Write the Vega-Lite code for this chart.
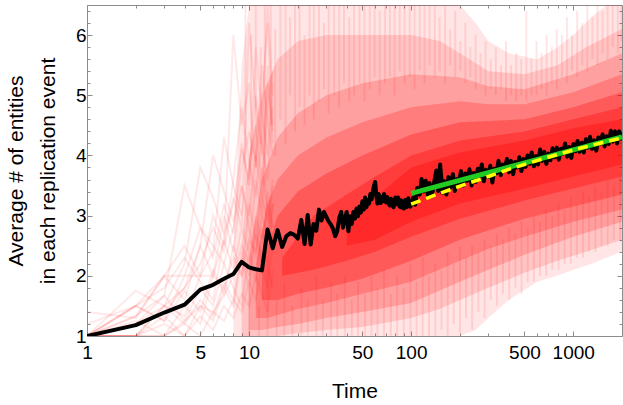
{
"$schema": "https://vega.github.io/schema/vega-lite/v6.json",
"width": 535, "height": 331,
"autosize": "none",
"padding": {"left": 87, "top": 5, "right": 1, "bottom": 69},
"config": {"view": {"stroke": null}, "font": "Liberation Sans"},
"datasets": {
"bands": [
{"band":1,"t":8,"lo":1.0,"hi":2.5},{"band":1,"t":9,"lo":1.0,"hi":5.5},{"band":1,"t":10,"lo":1.0,"hi":6.5},{"band":1,"t":200,"lo":1.0,"hi":6.5},{"band":1,"t":250,"lo":1.1,"hi":6.2},{"band":1,"t":300,"lo":1.3,"hi":5.9},{"band":1,"t":400,"lo":1.6,"hi":5.7},{"band":1,"t":600,"lo":1.9,"hi":5.6},{"band":1,"t":800,"lo":2.0,"hi":5.8},{"band":1,"t":1000,"lo":2.1,"hi":6.0},{"band":1,"t":1300,"lo":2.2,"hi":6.3},{"band":1,"t":1600,"lo":2.3,"hi":6.5},{"band":1,"t":2000,"lo":2.4,"hi":6.5},
{"band":2,"t":9,"lo":1.0,"hi":2.5},{"band":2,"t":10,"lo":1.0,"hi":4.0},{"band":2,"t":12,"lo":1.0,"hi":5.0},{"band":2,"t":15,"lo":1.0,"hi":5.6},{"band":2,"t":20,"lo":1.05,"hi":5.9},{"band":2,"t":30,"lo":1.1,"hi":6.0},{"band":2,"t":50,"lo":1.15,"hi":6.0},{"band":2,"t":100,"lo":1.3,"hi":6.0},{"band":2,"t":150,"lo":1.45,"hi":5.9},{"band":2,"t":200,"lo":1.6,"hi":5.7},{"band":2,"t":300,"lo":1.8,"hi":5.4},{"band":2,"t":500,"lo":2.05,"hi":5.35},{"band":2,"t":800,"lo":2.25,"hi":5.5},{"band":2,"t":1200,"lo":2.4,"hi":5.8},{"band":2,"t":2000,"lo":2.6,"hi":6.1},
{"band":3,"t":10,"lo":1.1,"hi":2.3},{"band":3,"t":12,"lo":1.1,"hi":3.6},{"band":3,"t":15,"lo":1.15,"hi":4.3},{"band":3,"t":20,"lo":1.2,"hi":4.7},{"band":3,"t":30,"lo":1.3,"hi":5.0},{"band":3,"t":50,"lo":1.4,"hi":5.2},{"band":3,"t":100,"lo":1.55,"hi":5.35},{"band":3,"t":200,"lo":1.9,"hi":5.3},{"band":3,"t":300,"lo":2.1,"hi":5.15},{"band":3,"t":500,"lo":2.35,"hi":5.1},{"band":3,"t":1000,"lo":2.65,"hi":5.35},{"band":3,"t":2000,"lo":2.9,"hi":5.7},
{"band":4,"t":11,"lo":1.3,"hi":2.2},{"band":4,"t":13,"lo":1.3,"hi":3.2},{"band":4,"t":15,"lo":1.35,"hi":3.6},{"band":4,"t":20,"lo":1.45,"hi":4.0},{"band":4,"t":30,"lo":1.55,"hi":4.3},{"band":4,"t":50,"lo":1.7,"hi":4.55},{"band":4,"t":100,"lo":1.9,"hi":4.8},{"band":4,"t":200,"lo":2.25,"hi":4.9},{"band":4,"t":300,"lo":2.45,"hi":4.85},{"band":4,"t":500,"lo":2.65,"hi":4.85},{"band":4,"t":1000,"lo":2.9,"hi":5.05},{"band":4,"t":2000,"lo":3.1,"hi":5.35},
{"band":5,"t":12,"lo":1.6,"hi":2.2},{"band":5,"t":15,"lo":1.6,"hi":3.0},{"band":5,"t":20,"lo":1.7,"hi":3.4},{"band":5,"t":30,"lo":1.8,"hi":3.7},{"band":5,"t":50,"lo":1.95,"hi":4.0},{"band":5,"t":100,"lo":2.25,"hi":4.35},{"band":5,"t":200,"lo":2.6,"hi":4.55},{"band":5,"t":500,"lo":2.95,"hi":4.6},{"band":5,"t":1000,"lo":3.15,"hi":4.8},{"band":5,"t":2000,"lo":3.35,"hi":5.05},
{"band":6,"t":16,"lo":2.0,"hi":2.3},{"band":6,"t":25,"lo":2.1,"hi":3.0},{"band":6,"t":40,"lo":2.25,"hi":3.35},{"band":6,"t":60,"lo":2.4,"hi":3.65},{"band":6,"t":100,"lo":2.65,"hi":4.0},{"band":6,"t":200,"lo":2.95,"hi":4.25},{"band":6,"t":500,"lo":3.25,"hi":4.4},{"band":6,"t":1000,"lo":3.45,"hi":4.6},{"band":6,"t":2000,"lo":3.65,"hi":4.8},
{"band":7,"t":40,"lo":2.5,"hi":2.8},{"band":7,"t":60,"lo":2.6,"hi":3.3},{"band":7,"t":100,"lo":2.9,"hi":3.8},{"band":7,"t":200,"lo":3.2,"hi":4.05},{"band":7,"t":500,"lo":3.45,"hi":4.25},{"band":7,"t":1000,"lo":3.65,"hi":4.45},{"band":7,"t":2000,"lo":3.85,"hi":4.6}
],
"streaks": [
{"t":9.5,"a":3.5,"b":6.5},{"t":10.3,"a":4.0,"b":6.0},{"t":11,"a":3.8,"b":6.5},{"t":11.8,"a":4.2,"b":5.8},{"t":12.5,"a":3.5,"b":6.5},{"t":13.6,"a":4.5,"b":6.5},{"t":14.5,"a":4.0,"b":6.1},{"t":15.6,"a":4.6,"b":6.5},{"t":16.8,"a":4.2,"b":6.5},{"t":17.9,"a":5.0,"b":6.3},{"t":19.2,"a":4.4,"b":6.5},{"t":20.5,"a":4.8,"b":6.5},{"t":22,"a":4.5,"b":6.0},{"t":23.6,"a":5.0,"b":6.5},{"t":25.1,"a":4.6,"b":6.5},{"t":27,"a":4.9,"b":6.5},{"t":29,"a":5.1,"b":6.2},{"t":31,"a":4.7,"b":6.5},{"t":33.5,"a":5.0,"b":6.5},{"t":36,"a":4.8,"b":6.5},{"t":38.5,"a":5.2,"b":6.5},{"t":41.5,"a":4.9,"b":6.3},{"t":44.5,"a":5.0,"b":6.5},{"t":48,"a":5.2,"b":6.5},{"t":51.5,"a":4.9,"b":6.5},{"t":55.5,"a":5.1,"b":6.5},{"t":59.5,"a":5.3,"b":6.5},{"t":64,"a":5.0,"b":6.4},{"t":69,"a":5.2,"b":6.5},{"t":74,"a":5.3,"b":6.5},{"t":79,"a":5.0,"b":6.5},{"t":85,"a":5.4,"b":6.5},{"t":91,"a":5.2,"b":6.5},{"t":98,"a":5.3,"b":6.5},{"t":105,"a":5.1,"b":6.5},{"t":113,"a":5.4,"b":6.5},{"t":121,"a":5.2,"b":6.5},{"t":130,"a":5.5,"b":6.5},{"t":140,"a":5.3,"b":6.5},{"t":150,"a":5.4,"b":6.3},{"t":162,"a":5.2,"b":6.5},{"t":174,"a":5.5,"b":6.1},{"t":187,"a":5.3,"b":6.4},{"t":201,"a":5.4,"b":5.9},{"t":216,"a":5.2,"b":6.2},{"t":232,"a":5.3,"b":5.8},{"t":250,"a":5.1,"b":6.0},{"t":268,"a":5.2,"b":5.7},{"t":288,"a":5.0,"b":5.9},{"t":310,"a":5.1,"b":5.6},{"t":333,"a":5.0,"b":5.8},{"t":358,"a":5.1,"b":5.5},{"t":385,"a":4.9,"b":5.9},{"t":414,"a":5.0,"b":5.5},{"t":445,"a":4.9,"b":5.7},{"t":478,"a":5.0,"b":5.6},{"t":514,"a":4.9,"b":6.4},{"t":552,"a":5.0,"b":5.6},{"t":594,"a":5.0,"b":5.9},{"t":638,"a":5.1,"b":5.7},{"t":686,"a":5.0,"b":6.0},{"t":737,"a":5.2,"b":5.8},{"t":792,"a":5.1,"b":6.1},{"t":852,"a":5.3,"b":6.0},{"t":915,"a":5.2,"b":6.3},{"t":984,"a":5.4,"b":6.0},{"t":1058,"a":5.3,"b":6.4},{"t":1137,"a":5.5,"b":6.2},{"t":1222,"a":5.4,"b":6.5},{"t":1314,"a":5.6,"b":6.3},{"t":1412,"a":5.5,"b":6.5},{"t":1518,"a":5.7,"b":6.4},{"t":1632,"a":5.6,"b":6.5},{"t":1754,"a":5.8,"b":6.5},{"t":1886,"a":5.7,"b":6.5},{"t":1980,"a":5.9,"b":6.5},
{"t":10,"a":1.0,"b":1.8},{"t":11.5,"a":1.0,"b":1.5},{"t":13,"a":1.0,"b":2.0},{"t":14.8,"a":1.0,"b":1.6},{"t":16.5,"a":1.0,"b":1.9},{"t":18.5,"a":1.0,"b":1.5},{"t":21,"a":1.0,"b":1.8},{"t":23,"a":1.0,"b":1.6},{"t":26,"a":1.0,"b":2.0},{"t":28.5,"a":1.0,"b":1.6},{"t":32,"a":1.0,"b":1.9},{"t":35,"a":1.0,"b":1.7},{"t":39,"a":1.0,"b":2.0},{"t":43,"a":1.0,"b":1.6},{"t":47,"a":1.0,"b":1.9},{"t":52,"a":1.0,"b":1.7},{"t":57,"a":1.0,"b":2.0},{"t":62,"a":1.0,"b":1.8},{"t":68,"a":1.0,"b":2.1},{"t":75,"a":1.0,"b":1.7},{"t":82,"a":1.0,"b":2.0},{"t":90,"a":1.0,"b":1.8},{"t":99,"a":1.0,"b":2.2},{"t":108,"a":1.0,"b":1.9},{"t":118,"a":1.0,"b":2.3},{"t":129,"a":1.0,"b":2.0},{"t":141,"a":1.0,"b":2.2},{"t":154,"a":1.1,"b":2.1},{"t":168,"a":1.0,"b":2.4},{"t":183,"a":1.2,"b":2.2},{"t":200,"a":1.05,"b":2.5},{"t":218,"a":1.3,"b":2.3},{"t":238,"a":1.1,"b":2.5},{"t":260,"a":1.4,"b":2.4},{"t":284,"a":1.3,"b":2.6},{"t":310,"a":1.6,"b":2.5},{"t":338,"a":1.5,"b":2.7},{"t":369,"a":1.7,"b":2.6},{"t":403,"a":1.6,"b":2.8},{"t":440,"a":1.8,"b":2.7},{"t":480,"a":1.7,"b":2.9},{"t":524,"a":1.9,"b":2.8},{"t":572,"a":1.9,"b":3.0},{"t":624,"a":2.0,"b":2.9},{"t":681,"a":2.0,"b":3.1},{"t":743,"a":2.1,"b":3.0},{"t":811,"a":2.1,"b":3.2},{"t":885,"a":2.2,"b":3.1},{"t":966,"a":2.2,"b":3.3},{"t":1054,"a":2.3,"b":3.2},{"t":1150,"a":2.3,"b":3.4},{"t":1255,"a":2.4,"b":3.3},{"t":1370,"a":2.4,"b":3.5},{"t":1495,"a":2.5,"b":3.4},{"t":1631,"a":2.5,"b":3.6},{"t":1780,"a":2.6,"b":3.5},{"t":1943,"a":2.6,"b":3.7}
],
"early": [
{"t":1,"a":1,"b":1,"c":1,"d":1,"e":1,"f":1,"g":1,"h":1,"i":1.4,"j":1.2,"k":1,"l":1,"m":1,"n":1,"o":1,"p":1,"q":1,"r":1},
{"t":2,"a":1,"b":1.5,"c":1.33,"d":1.2,"e":1,"f":1.75,"g":1.25,"h":1,"i":1.3,"j":1.5,"k":1.2,"l":1,"m":1.5,"n":1.33,"o":1,"p":1.2,"q":1.5,"r":1},
{"t":3,"a":1,"b":2,"c":1.67,"d":1.5,"e":1.5,"f":1.5,"g":1,"h":1.33,"i":2,"j":1.25,"k":1.67,"l":1,"m":1.25,"n":2,"o":1.2,"p":1.4,"q":1.8,"r":1.5},
{"t":4,"a":1.25,"b":2,"c":3.5,"d":2.2,"e":1.8,"f":1.33,"g":1.5,"h":1,"i":1.6,"j":1.75,"k":1.25,"l":1.2,"m":2,"n":2.5,"o":1,"p":1.8,"q":2.3,"r":1.2},
{"t":5,"a":1.5,"b":2,"c":2.8,"d":3.8,"e":2.5,"f":2,"g":1.2,"h":1.5,"i":2.5,"j":1.4,"k":1.8,"l":1,"m":2.8,"n":2,"o":1.33,"p":2.2,"q":1.9,"r":1.6},
{"t":6,"a":1.4,"b":2,"c":2.5,"d":3.3,"e":4,"f":2.4,"g":2,"h":1.25,"i":2,"j":2.1,"k":1.5,"l":1.4,"m":2.3,"n":3,"o":1.1,"p":2.8,"q":1.6,"r":1.33},
{"t":7,"a":1.67,"b":1.8,"c":2.2,"d":2.7,"e":3.4,"f":4.3,"g":2.6,"h":1.8,"i":3,"j":1.7,"k":2.2,"l":1.25,"m":3.2,"n":2.5,"o":1.5,"p":2.4,"q":2.6,"r":1.9},
{"t":8,"a":2,"b":2.3,"c":2.8,"d":3.2,"e":2.9,"f":3.5,"g":6,"h":1.5,"i":2.4,"j":2.5,"k":1.8,"l":1.6,"m":2.7,"n":3.6,"o":1.3,"p":3.3,"q":2.1,"r":1.6},
{"t":9,"a":2.5,"b":2,"c":3.5,"d":4.1,"e":3.8,"f":3,"g":4.5,"h":2.3,"i":3.5,"j":2,"k":1.5,"l":1.4,"m":4.2,"n":4.8,"o":1.7,"p":2.8,"q":2.8,"r":2.4},
{"t":10,"a":2.2,"b":2.6,"c":3,"d":3.6,"e":4.4,"f":3.8,"g":5.2,"h":1.8,"i":2.8,"j":3.2,"k":2.4,"l":1.9,"m":3.5,"n":3.9,"o":1.5,"p":6.2,"q":2.4,"r":2},
{"t":11,"a":3,"b":2.4,"c":4,"d":5,"e":3.9,"f":4.5,"g":3.8,"h":2.9,"i":2.3,"j":2.6,"k":1.9,"l":1.6,"m":5.8,"n":3.3,"o":2,"p":4.8,"q":3.6,"r":2.7},
{"t":12,"a":2.6,"b":3,"c":3.3,"d":4.2,"e":5.5,"f":3.5,"g":4.9,"h":2.2,"i":3.8,"j":2.1,"k":2.8,"l":2.2,"m":4.7,"n":4.4,"o":1.7,"p":4,"q":3,"r":2.3},
{"t":13,"a":3.2,"b":2.7,"c":2.9,"d":3.6,"e":4.6,"f":4.8,"g":6.2,"h":2.6,"i":3.1,"j":3.4,"k":2.2,"l":1.8,"m":4,"n":6.5,"o":1.4,"p":5.2,"q":5.5,"r":2},
{"t":14,"a":2.8,"b":3.5,"c":3.6,"d":4.8,"e":4,"f":5.4,"g":4.5,"h":3.2,"i":2.6,"j":2.8,"k":1.8,"l":2.5,"m":5.2,"n":5,"o":2.1,"p":4.4,"q":4.2,"r":3.2}
],
"mean": [
{"t":1,"y":1.0},{"t":2,"y":1.18},{"t":3,"y":1.39},{"t":4,"y":1.52},{"t":5,"y":1.77},{"t":6,"y":1.85},{"t":7,"y":1.95},{"t":8,"y":2.03},{"t":9,"y":2.23},{"t":10,"y":2.14},{"t":11,"y":2.11},{"t":12,"y":2.09},{"t":13,"y":2.77},{"t":14,"y":2.46},{"t":15,"y":2.76},{"t":16,"y":2.48},{"t":17,"y":2.66},{"t":18,"y":2.71},{"t":19,"y":2.68},{"t":20,"y":2.62},{"t":21,"y":2.93},{"t":22,"y":2.53},{"t":23,"y":3.01},{"t":24,"y":2.52},{"t":25,"y":2.86},{"t":26,"y":2.75},{"t":27,"y":3.1},{"t":28,"y":2.92},{"t":29,"y":3.06},{"t":30,"y":2.98},{"t":31,"y":2.9},{"t":32,"y":2.85},{"t":33,"y":2.78},{"t":34,"y":2.66},{"t":35,"y":2.74},{"t":36,"y":2.96},{"t":37,"y":3.06},{"t":38,"y":2.8},{"t":39,"y":2.95},{"t":40,"y":3.06},{"t":41,"y":2.74},{"t":42,"y":2.99},{"t":43,"y":2.86},{"t":44,"y":3.06},{"t":45,"y":2.95},{"t":46,"y":3.12},{"t":47,"y":2.99},{"t":48,"y":3.15},{"t":49,"y":3.05},{"t":50,"y":3.24},{"t":51,"y":3.1},{"t":52,"y":3.3},{"t":53,"y":3.14},{"t":54,"y":3.26},{"t":55,"y":3.2},{"t":56,"y":3.36},{"t":57,"y":3.27},{"t":58,"y":3.4},{"t":59,"y":3.5},{"t":60,"y":3.56},{"t":61,"y":3.32},{"t":62,"y":3.2},{"t":63,"y":3.36},{"t":64,"y":3.3},{"t":65,"y":3.21},{"t":66,"y":3.31},{"t":67,"y":3.24},{"t":68,"y":3.36},{"t":69,"y":3.27},{"t":70,"y":3.22},{"t":71,"y":3.31},{"t":72,"y":3.28},{"t":73,"y":3.19},{"t":74,"y":3.17},{"t":75,"y":3.28},{"t":76,"y":3.24},{"t":77,"y":3.16},{"t":78,"y":3.14},{"t":79,"y":3.26},{"t":80,"y":3.3},{"t":81,"y":3.22},{"t":82,"y":3.19},{"t":83,"y":3.3},{"t":84,"y":3.27},{"t":85,"y":3.15},{"t":86,"y":3.14},{"t":87,"y":3.25},{"t":88,"y":3.23},{"t":89,"y":3.13},{"t":90,"y":3.12},{"t":91,"y":3.22},{"t":92,"y":3.26},{"t":93,"y":3.16},{"t":94,"y":3.14},{"t":95,"y":3.24},{"t":96,"y":3.29},{"t":97,"y":3.18},{"t":98,"y":3.2},{"t":99,"y":3.15},
{"t":100,"y":3.18},{"t":103,"y":3.3},{"t":106,"y":3.18},{"t":109,"y":3.46},{"t":113,"y":3.35},{"t":116,"y":3.61},{"t":119,"y":3.4},{"t":123,"y":3.58},{"t":127,"y":3.34},{"t":130,"y":3.54},{"t":134,"y":3.32},{"t":138,"y":3.52},{"t":143,"y":3.75},{"t":147,"y":3.41},{"t":151,"y":3.85},{"t":156,"y":3.38},{"t":160,"y":3.57},{"t":165,"y":3.35},{"t":170,"y":3.64},{"t":175,"y":3.47},{"t":181,"y":3.69},{"t":186,"y":3.41},{"t":192,"y":3.61},{"t":197,"y":3.53},{"t":203,"y":3.74},{"t":209,"y":3.5},{"t":216,"y":3.7},{"t":222,"y":3.58},{"t":229,"y":3.77},{"t":236,"y":3.5},{"t":243,"y":3.71},{"t":250,"y":3.56},{"t":258,"y":3.78},{"t":265,"y":3.65},{"t":273,"y":3.85},{"t":281,"y":3.57},{"t":290,"y":3.76},{"t":299,"y":3.64},{"t":308,"y":3.83},{"t":317,"y":3.55},{"t":326,"y":3.78},{"t":336,"y":3.7},{"t":346,"y":3.91},{"t":357,"y":3.67},{"t":367,"y":3.85},{"t":378,"y":3.77},{"t":390,"y":3.94},{"t":401,"y":3.72},{"t":413,"y":3.91},{"t":426,"y":3.69},{"t":438,"y":3.89},{"t":452,"y":3.8},{"t":465,"y":3.97},{"t":479,"y":3.74},{"t":493,"y":3.94},{"t":508,"y":3.81},{"t":523,"y":4.0},{"t":539,"y":3.86},{"t":555,"y":4.05},{"t":572,"y":3.82},{"t":589,"y":3.99},{"t":607,"y":3.85},{"t":625,"y":4.1},{"t":644,"y":3.91},{"t":663,"y":4.06},{"t":683,"y":3.86},{"t":703,"y":4.03},{"t":724,"y":3.92},{"t":746,"y":4.12},{"t":768,"y":3.97},{"t":792,"y":4.13},{"t":815,"y":3.93},{"t":840,"y":4.11},{"t":865,"y":4.03},{"t":891,"y":4.2},{"t":918,"y":3.98},{"t":945,"y":4.14},{"t":974,"y":3.96},{"t":1003,"y":4.19},{"t":1033,"y":4.07},{"t":1064,"y":4.24},{"t":1096,"y":4.06},{"t":1129,"y":4.21},{"t":1163,"y":4.05},{"t":1197,"y":4.27},{"t":1233,"y":4.13},{"t":1270,"y":4.31},{"t":1308,"y":4.11},{"t":1348,"y":4.25},{"t":1388,"y":4.08},{"t":1430,"y":4.3},{"t":1473,"y":4.2},{"t":1517,"y":4.35},{"t":1562,"y":4.15},{"t":1609,"y":4.32},{"t":1657,"y":4.19},{"t":1707,"y":4.41},{"t":1758,"y":4.23},{"t":1811,"y":4.4},{"t":1865,"y":4.2},{"t":1921,"y":4.4},{"t":1979,"y":4.28},{"t":2000,"y":4.38}
],
"green": [{"t":100,"y":3.37},{"t":2000,"y":4.31}],
"yellow": [{"t":100,"y":3.19},{"t":120,"y":3.27},{"t":150,"y":3.37},{"t":200,"y":3.49},{"t":250,"y":3.58},{"t":300,"y":3.65},{"t":400,"y":3.77},{"t":500,"y":3.85},{"t":700,"y":3.97},{"t":1000,"y":4.09},{"t":1500,"y":4.21},{"t":2000,"y":4.29}]
},
"layer": [
{"data": {"name": "bands"}, "transform": [{"filter": "datum.band == 1"}], "mark": {"type": "area", "color": "#ff0000", "opacity": 0.1, "clip": true},
 "encoding": {"x": {"field": "t", "type": "quantitative", "scale": {"type": "log", "domain": [1, 2000], "nice": false}, "axis": null},
  "y": {"field": "lo", "type": "quantitative", "scale": {"domain": [1, 6.5], "nice": false, "zero": false}, "axis": null}, "y2": {"field": "hi"}}},
{"data": {"name": "bands"}, "transform": [{"filter": "datum.band == 2"}], "mark": {"type": "area", "color": "#ff0000", "opacity": 0.14, "clip": true},
 "encoding": {"x": {"field": "t", "type": "quantitative", "axis": null}, "y": {"field": "lo", "type": "quantitative", "axis": null}, "y2": {"field": "hi"}}},
{"data": {"name": "bands"}, "transform": [{"filter": "datum.band == 3"}], "mark": {"type": "area", "color": "#ff0000", "opacity": 0.18, "clip": true},
 "encoding": {"x": {"field": "t", "type": "quantitative", "axis": null}, "y": {"field": "lo", "type": "quantitative", "axis": null}, "y2": {"field": "hi"}}},
{"data": {"name": "bands"}, "transform": [{"filter": "datum.band == 4"}], "mark": {"type": "area", "color": "#ff0000", "opacity": 0.22, "clip": true},
 "encoding": {"x": {"field": "t", "type": "quantitative", "axis": null}, "y": {"field": "lo", "type": "quantitative", "axis": null}, "y2": {"field": "hi"}}},
{"data": {"name": "bands"}, "transform": [{"filter": "datum.band == 5"}], "mark": {"type": "area", "color": "#ff0000", "opacity": 0.28, "clip": true},
 "encoding": {"x": {"field": "t", "type": "quantitative", "axis": null}, "y": {"field": "lo", "type": "quantitative", "axis": null}, "y2": {"field": "hi"}}},
{"data": {"name": "bands"}, "transform": [{"filter": "datum.band == 6"}], "mark": {"type": "area", "color": "#ff0000", "opacity": 0.32, "clip": true},
 "encoding": {"x": {"field": "t", "type": "quantitative", "axis": null}, "y": {"field": "lo", "type": "quantitative", "axis": null}, "y2": {"field": "hi"}}},
{"data": {"name": "bands"}, "transform": [{"filter": "datum.band == 7"}], "mark": {"type": "area", "color": "#ff0000", "opacity": 0.32, "clip": true},
 "encoding": {"x": {"field": "t", "type": "quantitative", "axis": null}, "y": {"field": "lo", "type": "quantitative", "axis": null}, "y2": {"field": "hi"}}},
{"data": {"name": "streaks"}, "mark": {"type": "rule", "color": "#ff0000", "opacity": 0.1, "strokeWidth": 2, "clip": true},
 "encoding": {"x": {"field": "t", "type": "quantitative", "axis": null}, "y": {"field": "a", "type": "quantitative", "axis": null}, "y2": {"field": "b"}}},
{"data": {"name": "early"}, "transform": [{"fold": ["a","b","c","d","e","f","g","h","i","j","k","l","m","n","o","p","q","r"], "as": ["run", "v"]}],
 "mark": {"type": "line", "color": "#ff0000", "opacity": 0.09, "strokeWidth": 2, "clip": true},
 "encoding": {"x": {"field": "t", "type": "quantitative", "axis": null}, "y": {"field": "v", "type": "quantitative", "axis": null}, "detail": {"field": "run"}}},
{"data": {"name": "mean"}, "mark": {"type": "line", "color": "#000000", "strokeWidth": 4, "strokeJoin": "round", "clip": true},
 "encoding": {"x": {"field": "t", "type": "quantitative", "axis": null}, "y": {"field": "y", "type": "quantitative", "axis": null}}},
{"data": {"name": "green"}, "mark": {"type": "line", "color": "#22cc22", "strokeWidth": 5},
 "encoding": {
  "x": {"field": "t", "type": "quantitative", "axis": {"orient": "bottom", "values": [1,2,3,4,5,6,7,8,9,10,20,30,40,50,60,70,80,90,100,200,300,400,500,600,700,800,900,1000],
    "labelExpr": "indexof([1,5,10,50,100,500,1000], datum.value) >= 0 ? format(datum.value, 'd') : ''",
    "labelFlush": false, "labelOverlap": false, "labelFont": "Liberation Sans", "labelFontSize": 19, "labelColor": "#000000", "labelPadding": 12,
    "tickSize": {"condition": {"test": "indexof([1,5,10,50,100,500,1000], datum.value) >= 0", "value": -5}, "value": -3},
    "tickColor": "#8c8c8c", "domainColor": "#8c8c8c", "grid": false,
    "title": "Time", "titleFont": "Liberation Sans", "titleFontSize": 21, "titleFontWeight": "normal", "titleColor": "#000000", "titlePadding": 16}},
  "y": {"field": "y", "type": "quantitative", "axis": {"orient": "left", "values": [1,1.2,1.4,1.6,1.8,2,2.2,2.4,2.6,2.8,3,3.2,3.4,3.6,3.8,4,4.2,4.4,4.6,4.8,5,5.2,5.4,5.6,5.8,6,6.2,6.4],
    "labelExpr": "datum.value % 1 === 0 ? format(datum.value, 'd') : ''",
    "labelOverlap": false, "labelFlush": false, "labelFont": "Liberation Sans", "labelFontSize": 19, "labelColor": "#000000", "labelPadding": 6,
    "tickSize": {"condition": {"test": "datum.value % 1 === 0", "value": -5}, "value": -3},
    "tickColor": "#8c8c8c", "domainColor": "#8c8c8c", "grid": false,
    "title": ["Average # of entities", "in each replication event"], "titleFont": "Liberation Sans", "titleFontSize": 21, "titleFontWeight": "normal", "titleColor": "#000000", "titleLineHeight": 32, "titlePadding": 17}}}},
{"data": {"name": "yellow"}, "mark": {"type": "line", "color": "#ffff00", "strokeWidth": 3.5, "strokeDash": [10, 6]},
 "encoding": {
  "x": {"field": "t", "type": "quantitative", "axis": {"orient": "top", "values": [1,2,3,4,5,6,7,8,9,10,20,30,40,50,60,70,80,90,100,200,300,400,500,600,700,800,900,1000],
    "labels": false, "title": null, "grid": false,
    "tickSize": {"condition": {"test": "indexof([1,5,10,50,100,500,1000], datum.value) >= 0", "value": -5}, "value": -3},
    "tickColor": "#8c8c8c", "domainColor": "#8c8c8c"}},
  "y": {"field": "y", "type": "quantitative", "axis": {"orient": "right", "values": [1,1.2,1.4,1.6,1.8,2,2.2,2.4,2.6,2.8,3,3.2,3.4,3.6,3.8,4,4.2,4.4,4.6,4.8,5,5.2,5.4,5.6,5.8,6,6.2,6.4],
    "labels": false, "title": null, "grid": false,
    "tickSize": {"condition": {"test": "datum.value % 1 === 0", "value": -5}, "value": -3},
    "tickColor": "#8c8c8c", "domainColor": "#8c8c8c"}}}}
],
"resolve": {"axis": {"x": "independent", "y": "independent"}}
}
